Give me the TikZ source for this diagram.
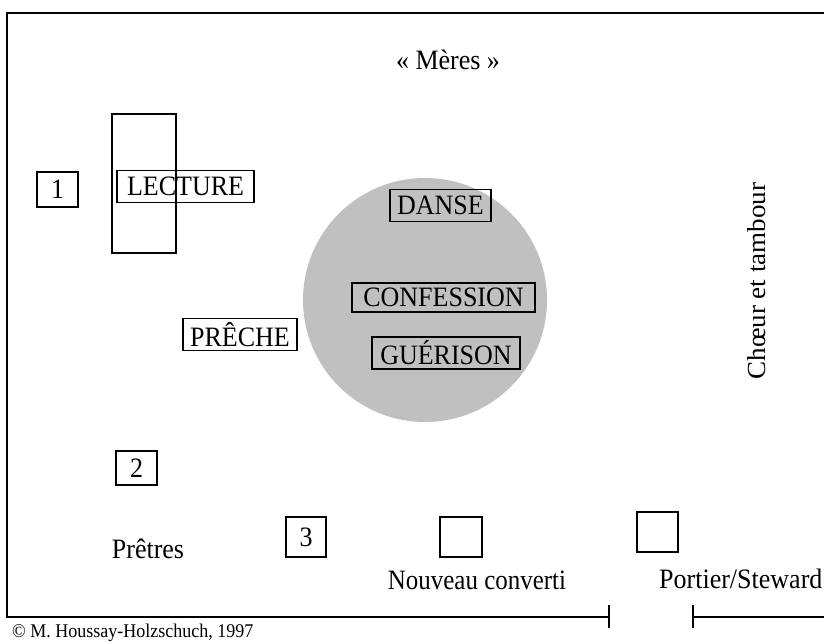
\documentclass[tikz,border=0pt]{standalone}
\usepackage{fontspec}
\usepackage{graphicx}
\setmainfont{Liberation Serif}
\definecolor{areagray}{RGB}{192,192,192}
\newcommand{\talltext}[1]{\scalebox{1}[1.08]{#1}}
\begin{document}
\begin{tikzpicture}[x=1pt,y=-1pt,
  every node/.style={font=\fontsize{26}{30}\selectfont, inner sep=0pt},
  lbl/.style={draw, line width=1.8pt, minimum height=32pt},
  sq/.style={draw, line width=1.8pt, minimum width=41pt, minimum height=38pt},
  wall/.style={line width=2.4pt}]
\useasboundingbox (0,0) rectangle (824,643);
% walls
\coordinate (tr) at (824,13);
\coordinate (tl) at (7,13);
\coordinate (bl) at (7,617);
\coordinate (d1) at (609,617);
\coordinate (d2) at (693,617);
\coordinate (br) at (824,617);
\draw[wall] (tr) -- (tl) -- (bl) -- (d1);
\draw[wall] (d2) -- (br);
\draw[wall] ([yshift=-11pt]d1) -- ([yshift=12pt]d1);
\draw[wall] ([yshift=-11pt]d2) -- ([yshift=12pt]d2);
% dance area
\node[circle, fill=areagray, minimum size=244pt] (area) at (425,300) {};
\node[lbl, minimum width=101pt] (danse) at (440.5,205.5) {\talltext{DANSE}};
\node[lbl, minimum width=183pt, minimum height=29pt] (conf) at (443.5,297.5) {\talltext{CONFESSION}};
\node[lbl, minimum width=148pt] (guer) at (446,353) {\talltext{GUÉRISON}};
% cross and lecture
\draw[line width=1.8pt] (112,114) rectangle (176,253);
\node[lbl, minimum width=137pt] (lect) at (185.5,186.5) {\talltext{LECTURE}};
\node[lbl, minimum width=114pt] (preche) at (240,334.5) {\talltext{PRÊCHE}};
% numbered places
\node[sq, minimum height=35pt] (p1) at (57.5,189.5) {\talltext{1}};
\node[sq, minimum height=34pt] (p2) at (136.5,468) {\talltext{2}};
\node[sq, minimum width=40pt, minimum height=40pt] (p3) at (306,537) {\talltext{3}};
\node[sq, minimum width=42pt, minimum height=40pt] (nc) at (461,537) {};
\node[sq, minimum width=41pt, minimum height=40pt] (ps) at (657.5,532) {};
% labels
\node (meres) at (448,60) {\talltext{« Mères »}};
\node[rotate=90] (choeur) at (757,281) {\scalebox{1.04}[1]{Chœur et tambour}};
\node (pretres) at (148,549) {\talltext{Prêtres}};
\node (nouveau) at (477,580) {\scalebox{0.96}[1.08]{Nouveau converti}};
\node[anchor=west] (portier) at (659,579) {\talltext{Portier/Steward}};
\node[anchor=west, font=\fontsize{18}{20}\selectfont] (copy) at (12,633) {\talltext{© M. Houssay-Holzschuch, 1997}};
\end{tikzpicture}
\end{document}
